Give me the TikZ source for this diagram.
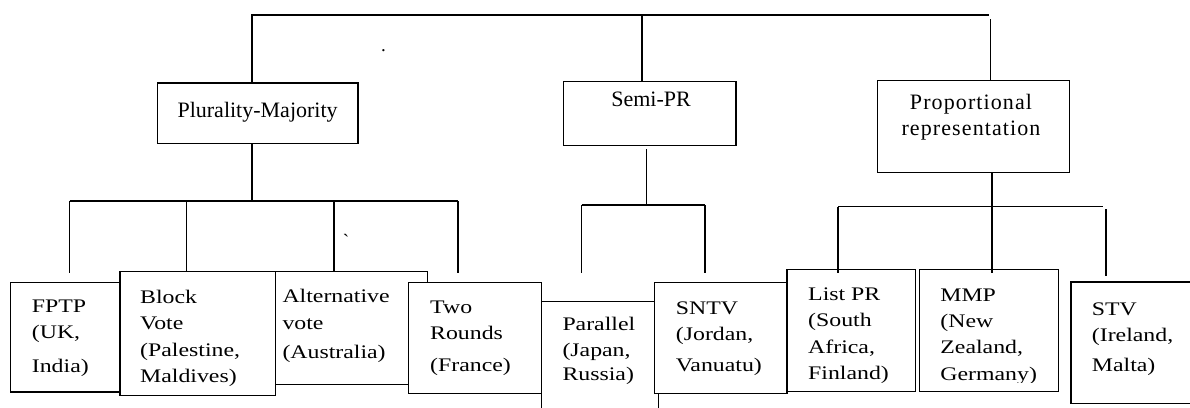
\documentclass[tikz,border=0pt]{standalone}
\usepackage{fontspec}
\setmainfont{Liberation Serif}
\newfontfamily\boxfont[FakeStretch=1.24]{Liberation Serif}
\newfontfamily\prfont[LetterSpace=5]{Liberation Serif}
\begin{document}
\begin{tikzpicture}[x=1pt,y=-1pt,
  box/.style={draw, fill=white, line width=1.4pt, inner sep=0pt, anchor=north west},
  lbl/.style={inner sep=0pt, anchor=base west, align=left, font=\boxfont\fontsize{19.2}{26.3}\selectfont},
  toplbl/.style={inner sep=0pt, anchor=base, align=center, font=\fontsize{22}{25.7}\selectfont},
  wire/.style={line width=1.4pt}]
\useasboundingbox (0,0) rectangle (1190,407);
\clip (0,0) rectangle (1190,407);

% ---------- top level boxes ----------
\node[box, minimum width=200.4, minimum height=60.7] (plur) at (157,82.3) {};
\node[box, minimum width=172.8, minimum height=63.7] (semi) at (562.6,81) {};
\node[box, minimum width=192.1, minimum height=92.3] (pr) at (876.6,79.7) {};
\node[toplbl] (plurT) at (257.6,117.3) {Plurality-Majority};
\node[toplbl] (semiT) at (651,106) {Semi-PR};
\node[toplbl, font=\prfont\fontsize{22}{25.7}\selectfont] (prT) at (971,135) {Proportional\\representation};

% ---------- bottom boxes ----------
\node[box, minimum width=109.4, minimum height=109.5] (fptp) at (10,281.7) {};
\node[box, minimum width=151.7, minimum height=113] (alt) at (275,271) {};
\node[box, minimum width=155.6, minimum height=123.5] (block) at (119.4,271) {};
\node[box, minimum width=132.5, minimum height=111] (two) at (408,281.7) {};
\node[box, minimum width=117.2, minimum height=130] (par) at (540.5,300.7) {};
\node[box, minimum width=132.3, minimum height=111.3] (sntv) at (654,281.7) {};
\node[box, minimum width=128.2, minimum height=121.7] (list) at (786.3,269) {};
\node[box, minimum width=138.7, minimum height=121.5] (mmp) at (919,269) {};
\node[box, minimum width=140, minimum height=121.8] (stv) at (1070.2,281.2) {};

% labels: anchor is the baseline of the last line
\node[lbl] (fptpT) at (31.7,372.7) {FPTP\\(UK,\\[8pt]India)};
\node[lbl] (blockT) at (140,382.3) {Block\\Vote\\(Palestine,\\Maldives)};
\node[lbl] (altT) at (282.3,358.3) {Alternative\\vote\\[3pt](Australia)};
\node[lbl] (twoT) at (430,371.7) {Two\\Rounds\\[6pt](France)};
\node[lbl] (parT) at (562.3,380.7) {Parallel\\(Japan,\\[-2pt]Russia)};
\node[lbl] (sntvT) at (675.7,371.7) {SNTV\\(Jordan,\\[5pt]Vanuatu)};
\begin{scope}
\clip (786,260) rectangle (1060,382);
\node[lbl] (listT) at (808,379.3) {List PR\\(South\\Africa,\\Finland)};
\node[lbl] (mmpT) at (940.2,380) {MMP\\(New\\Zealand,\\Germany)};
\end{scope}
\node[lbl] (stvT) at (1091.7,371.7) {STV\\(Ireland,\\[4pt]Malta)};

% stray marks
\node[inner sep=0pt, anchor=base, font=\fontsize{19}{20}\selectfont] (dot) at (383.5,51) {.};
\node[inner sep=0pt, anchor=base, font=\fontsize{19}{20}\selectfont] (grave) at (346,247.3) {\textasciigrave};

% ---------- top connectors ----------
\coordinate (topL) at (252,15);
\coordinate (topR) at (989,15);
\coordinate (topS) at (642,15);
\coordinate (topP) at (990.7,19);
\draw[wire] (topL |- plur.north) -- (topL) -- (topR);
\draw[wire] (topS) -- (topS |- semi.north);
\draw[wire] (topP) -- (topP |- pr.north);

% ---------- plurality-majority branch ----------
\coordinate (pmJ) at (251.8,201);
\coordinate (pmL) at (69.7,201);
\coordinate (pmR) at (458,201);
\coordinate (pm2) at (186.4,201);
\coordinate (pm3) at (334,201);
\draw[wire] (pmJ |- plur.south) -- (pmJ);
\draw[wire] (pmL) -- (pmR);
\draw[wire] (pmL) -- (69.7,273);
\draw[wire] (pm2) -- (pm2 |- block.north);
\draw[wire] (pm3) -- (pm3 |- alt.north);
\draw[wire] (pmR) -- (458,273);

% ---------- semi-PR branch ----------
\coordinate (spJ) at (646.6,205);
\coordinate (spL) at (581.7,205);
\coordinate (spR) at (705,205);
\draw[wire] (646.6,149) -- (spJ);
\draw[wire] (spL) -- (spR);
\draw[wire] (spL) -- (581.7,273);
\draw[wire] (spR) -- (705,273);

% ---------- proportional branch ----------
\coordinate (prJ) at (991.8,206.7);
\coordinate (prL) at (838,206.7);
\coordinate (prR) at (1103,206.7);
\coordinate (prS) at (1106,209);
\draw[wire] (prJ |- pr.south) -- (prJ) -- (991.8,273);
\draw[wire] (prL) -- (prR);
\draw[wire] (prL) -- (838,273);
\draw[wire] (prS) -- (1106,276);
\end{tikzpicture}
\end{document}
